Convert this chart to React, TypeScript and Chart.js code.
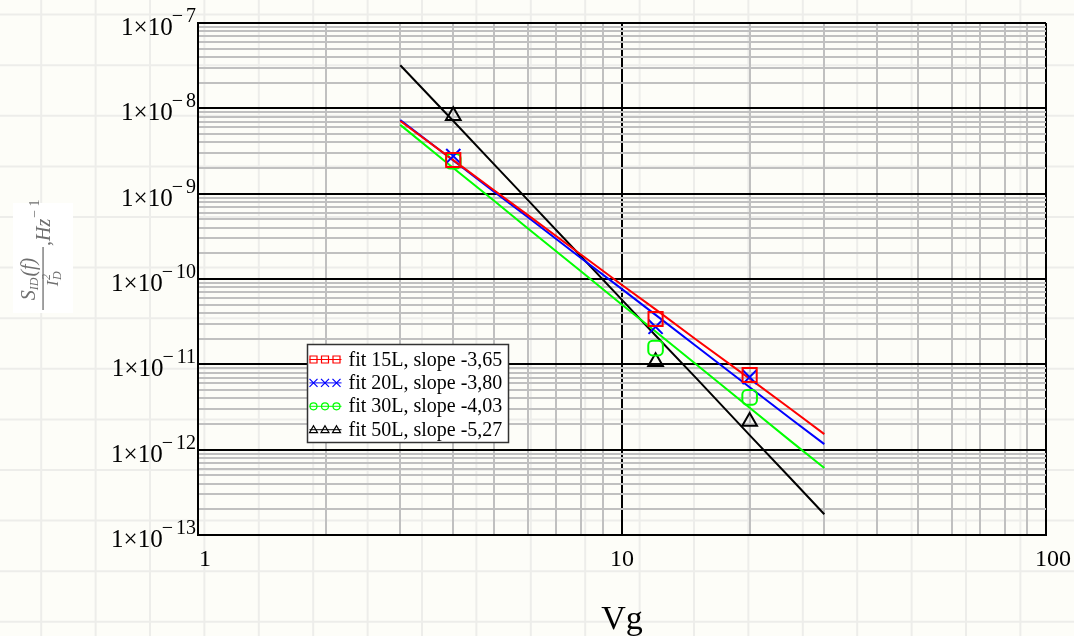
import React, { useEffect, useRef } from 'react';
import { Chart, registerables } from 'chart.js';

Chart.register(...registerables);

// ---------- data ----------
const fitX = [3, 4, 5, 6, 8, 10, 12, 15, 20, 25, 30];
const fit15L = [7.1e-9, 2.47e-9, 1.09e-9, 5.6e-10, 1.94e-10, 8.5e-11, 4.4e-11, 1.93e-11, 6.8e-12, 3.0e-12, 1.52e-12];
const fit20L = [7.3e-9, 2.45e-9, 1.05e-9, 5.3e-10, 1.76e-10, 7.6e-11, 3.8e-11, 1.62e-11, 5.4e-12, 2.3e-12, 1.16e-12];
const fit30L = [6.4e-9, 2.0e-9, 8.2e-10, 3.9e-10, 1.23e-10, 5.0e-11, 2.42e-11, 9.9e-12, 3.1e-12, 1.26e-12, 6.1e-13];
const fit50L = [3.2e-8, 7.1e-9, 2.19e-9, 8.4e-10, 1.85e-10, 5.7e-11, 2.18e-11, 6.8e-12, 1.48e-12, 4.6e-13, 1.75e-13];

const measX = [4, 12, 20];
const meas15L = [2.48e-9, 3.4e-11, 7.5e-12];
const meas20L = [2.76e-9, 2.75e-11, 7.1e-12];
const meas30L = [2.4e-9, 1.55e-11, 4.1e-12];
const meas50L = [8.2e-9, 1.07e-11, 2.14e-12];

const seriesLabels = ['fit 15L, slope -3,65', 'fit 20L, slope -3,80', 'fit 30L, slope -4,03', 'fit 50L, slope -5,27'];
const seriesColors = ['#ff0000', '#0000ff', '#00ff00', '#000000'];
const markerStyles = ['rect', 'crossRot', 'rectRounded', 'triangle'];
const markerRadii = [10, 10, 8.5, 8.5];

const xTickValues = [1, 10, 100];
const xTickLabels = ['1', '10', '100'];
const xDecadeStarts = [1, 10];
const yDecadeExponents = [-13, -12, -11, -10, -9, -8, -7];
const minorMultipliers = [1, 2, 3, 4, 5, 6, 7, 8, 9];
const xTitle = 'Vg';

const fitSeries = [fit15L, fit20L, fit30L, fit50L];
const measSeries = [meas15L, meas20L, meas30L, meas50L];

const SERIF = '"Liberation Serif", "Times New Roman", serif';

const isMajor = (v: number) => Math.abs(Math.log10(v) - Math.round(Math.log10(v))) < 1e-6;

function drawLegendMarker(ctx: CanvasRenderingContext2D, style: string, x: number, y: number, color: string) {
  ctx.strokeStyle = color;
  ctx.lineWidth = 1.2;
  ctx.beginPath();
  if (style === 'rect') {
    ctx.rect(x - 3.5, y - 3.5, 7, 7);
  } else if (style === 'crossRot') {
    ctx.moveTo(x - 4, y - 4); ctx.lineTo(x + 4, y + 4);
    ctx.moveTo(x + 4, y - 4); ctx.lineTo(x - 4, y + 4);
  } else if (style === 'rectRounded') {
    ctx.arc(x, y, 3.5, 0, Math.PI * 2);
  } else {
    ctx.moveTo(x, y - 4); ctx.lineTo(x + 4, y + 3); ctx.lineTo(x - 4, y + 3); ctx.closePath();
  }
  ctx.stroke();
}

function drawYTitle(ctx: CanvasRenderingContext2D) {
  const gray = '#6f6f6f';
  ctx.save();
  ctx.fillStyle = '#ffffff';
  ctx.fillRect(13, 203, 60, 110);
  ctx.translate(42, 258);
  ctx.rotate(-Math.PI / 2);
  ctx.fillStyle = gray;
  ctx.textAlign = 'left';
  ctx.textBaseline = 'alphabetic';
  ctx.fillRect(-52, 0.4, 63, 1.3);
  const big = `italic 20px ${SERIF}`;
  const small = `italic 12px ${SERIF}`;
  ctx.font = big; const wS = ctx.measureText('S').width;
  ctx.font = small; const wID = ctx.measureText('ID').width;
  ctx.font = big; const wF = ctx.measureText('(f)').width;
  let u = -21 - (wS + wID + wF + 1) / 2;
  const vb = -7;
  ctx.font = big; ctx.fillText('S', u, vb); u += wS;
  ctx.font = small; ctx.fillText('ID', u, vb + 3); u += wID + 1;
  ctx.font = big; ctx.fillText('(f)', u, vb);
  const dBig = `italic 17px ${SERIF}`;
  ctx.font = dBig; const wI = ctx.measureText('I').width;
  ctx.font = small; const wD = ctx.measureText('D').width;
  let du = -21 - (wI + wD) / 2;
  const dvb = 16;
  ctx.font = dBig; ctx.fillText('I', du, dvb); du += wI + 0.5;
  ctx.font = small; ctx.fillText('2', du, dvb - 8); ctx.fillText('D', du, dvb + 3);
  ctx.font = big; ctx.fillText(',Hz', 12, 8);
  const wHz = ctx.measureText(',Hz').width;
  ctx.font = `14px ${SERIF}`; ctx.fillText('\u2212 1', 12 + wHz + 1, -3);
  ctx.restore();
}

const sheetPlugin = {
  id: 'sheet',
  beforeDraw(chart: any) {
    const { ctx, width, height } = chart;
    ctx.save();
    ctx.fillStyle = '#fdfdf8';
    ctx.fillRect(0, 0, width, height);
    ctx.strokeStyle = '#ededea';
    ctx.lineWidth = 2;
    ctx.beginPath();
    for (let x = 41.2; x < width; x += 54.4) { ctx.moveTo(x, 0); ctx.lineTo(x, height); }
    for (let y = 14.6; y < height; y += 50.6) { ctx.moveTo(0, y); ctx.lineTo(width, y); }
    ctx.stroke();
    ctx.restore();
  },
};

const annotPlugin = {
  id: 'annot',
  afterDraw(chart: any) {
    const { ctx, chartArea } = chart;
    const xs = chart.scales.x;
    const ys = chart.scales.y;
    ctx.save();
    ctx.fillStyle = '#000';
    ctx.textBaseline = 'alphabetic';
    // y tick labels
    yDecadeExponents.forEach((e) => {
      const py = ys.getPixelForValue(Math.pow(10, e));
      const digits = String(Math.abs(e));
      ctx.textAlign = 'right';
      ctx.font = `20px ${SERIF}`;
      const right = chartArea.left - 2;
      const wDig = ctx.measureText(digits).width;
      ctx.fillText(digits, right, py - 1);
      const minusRight = right - wDig - 3;
      const wMin = ctx.measureText('\u2212').width;
      ctx.fillText('\u2212', minusRight, py - 1);
      ctx.font = `25px ${SERIF}`;
      ctx.fillText('1\u00d710', minusRight - wMin + 1, py + 12);
    });
    // x tick labels
    ctx.font = `24px ${SERIF}`;
    ctx.textAlign = 'center';
    xTickValues.forEach((v, i) => {
      const px = xs.getPixelForValue(v);
      const off = i === 0 ? 7 : i === xTickValues.length - 1 ? 7 : 0;
      ctx.fillText(xTickLabels[i], px + off, chartArea.bottom + 31);
    });
    // x title
    ctx.font = `34px ${SERIF}`;
    ctx.fillText(xTitle, xs.getPixelForValue(10), 629);
    // legend
    const lx = chartArea.left + 109.5;
    const ly = chartArea.top + 321.5;
    ctx.fillStyle = '#ffffff';
    ctx.fillRect(lx, ly, 201, 98);
    ctx.strokeStyle = '#333333';
    ctx.lineWidth = 1.5;
    ctx.strokeRect(lx, ly, 201, 98);
    ctx.font = `20px ${SERIF}`;
    ctx.textAlign = 'left';
    seriesLabels.forEach((lab, i) => {
      const cy = ly + 15 + i * 23.4;
      ctx.strokeStyle = seriesColors[i];
      ctx.lineWidth = 1;
      ctx.beginPath();
      ctx.moveTo(lx + 2, cy); ctx.lineTo(lx + 34, cy);
      ctx.stroke();
      [6, 17.5, 29].forEach((dx) => drawLegendMarker(ctx, markerStyles[i], lx + dx, cy, seriesColors[i]));
      ctx.fillStyle = '#000';
      ctx.fillText(lab, lx + 41, cy + 6);
    });
    drawYTitle(ctx);
    ctx.restore();
  },
};

export default function App() {
  const ref = useRef<HTMLCanvasElement | null>(null);
  useEffect(() => {
    if (!ref.current) return;
    const xGrid: number[] = [];
    xDecadeStarts.forEach((d) => minorMultipliers.forEach((m) => xGrid.push(m * d)));
    xGrid.push(xTickValues[xTickValues.length - 1]);
    const yGrid: number[] = [];
    yDecadeExponents.slice(0, -1).forEach((e) => minorMultipliers.forEach((m) => yGrid.push(m * Math.pow(10, e))));
    yGrid.push(Math.pow(10, yDecadeExponents[yDecadeExponents.length - 1]));

    const markerSets = measSeries.map((s, i) => ({
      label: seriesLabels[i] + ' data',
      data: measX.map((x, j) => ({ x, y: s[j] })),
      showLine: false,
      pointStyle: markerStyles[i],
      pointRadius: markerRadii[i],
      pointBorderWidth: 2,
      pointBorderColor: seriesColors[i],
      pointBackgroundColor: 'rgba(0,0,0,0)',
      order: 0,
    }));
    const lineSets = fitSeries.map((s, i) => ({
      label: seriesLabels[i],
      data: fitX.map((x, j) => ({ x, y: s[j] })),
      showLine: true,
      borderColor: seriesColors[i],
      borderWidth: 2,
      pointRadius: 0,
      tension: 0,
      order: 1,
    }));
    const gridColor = (c: any) => (c.tick && isMajor(c.tick.value) ? '#000000' : '#c0c0c0');
    const chart = new Chart(ref.current, {
      type: 'scatter',
      data: { datasets: [...markerSets, ...lineSets] as any },
      plugins: [sheetPlugin, annotPlugin],
      options: {
        animation: false,
        responsive: false,
        devicePixelRatio: 1,
        layout: { padding: { left: 198, top: 23, right: 28, bottom: 101 } },
        plugins: { legend: { display: false }, tooltip: { enabled: false } },
        scales: {
          x: {
            type: 'logarithmic',
            min: 1,
            max: 100,
            afterBuildTicks: (s: any) => { s.ticks = xGrid.map((v) => ({ value: v })); },
            ticks: { display: false },
            grid: { color: gridColor, lineWidth: 2, drawTicks: false },
            border: { display: true, color: '#000', width: 2 },
          },
          y: {
            type: 'logarithmic',
            min: 1e-13,
            max: 1e-7,
            afterBuildTicks: (s: any) => { s.ticks = yGrid.map((v) => ({ value: v })); },
            ticks: { display: false },
            grid: { color: gridColor, lineWidth: 2, drawTicks: false },
            border: { display: true, color: '#000', width: 2 },
          },
        },
      } as any,
    });
    return () => chart.destroy();
  }, []);
  return (
    <div style={{ position: 'absolute', left: 0, top: 0, width: 1074, height: 636 }}>
      <canvas ref={ref} width={1074} height={636} style={{ display: 'block' }} />
    </div>
  );
}
